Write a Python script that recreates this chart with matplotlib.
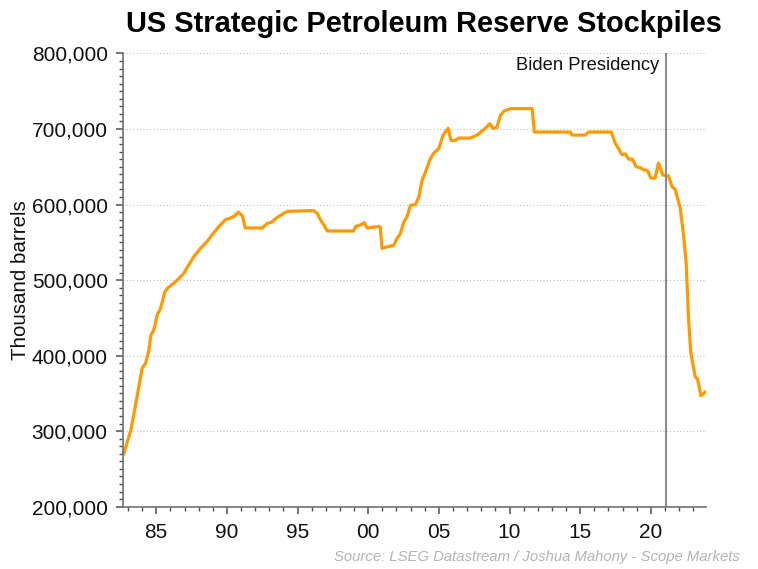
import matplotlib as mpl
mpl.use("Agg")
import matplotlib.pyplot as plt
from matplotlib.ticker import FuncFormatter, MultipleLocator


# monthly-ish readings of the SPR stock, thousand barrels
years = [
    1982.7, 1983.2, 1983.45, 1983.77, 1984.0, 1984.25, 1984.48, 1984.62,
    1984.83, 1985.07, 1985.3, 1985.6, 1985.78, 1986.25, 1986.6, 1986.95,
    1987.3, 1987.66, 1988.13, 1988.6, 1988.96, 1989.43, 1989.9, 1990.25,
    1990.55, 1990.8, 1991.1, 1991.3, 1992.5, 1992.85, 1993.2, 1993.56,
    1993.9, 1994.27, 1996.15, 1996.4, 1996.62, 1996.86, 1997.1, 1998.97,
    1999.1, 1999.45, 1999.73, 1999.92, 2000.75, 2000.85, 2000.98, 2001.33,
    2001.8, 2002.04, 2002.28, 2002.52, 2002.75, 2002.99, 2003.34, 2003.58,
    2003.81, 2004.05, 2004.35, 2004.63, 2004.99, 2005.3, 2005.65, 2005.86,
    2006.17, 2006.4, 2007.23, 2007.7, 2008.17, 2008.6, 2008.83, 2009.1,
    2009.35, 2009.63, 2010.06, 2011.6, 2011.75, 2014.3, 2014.42, 2015.36,
    2015.6, 2017.2, 2017.48, 2017.72, 2017.95, 2018.2, 2018.43, 2018.7,
    2018.96, 2019.25, 2019.48, 2019.75, 2020.0, 2020.3, 2020.54, 2020.85,
    2021.25, 2021.49, 2021.72, 2022.08, 2022.31, 2022.5, 2022.67, 2022.83,
    2023.14, 2023.3, 2023.54, 2023.7, 2023.84,
]
stock = [
    270, 301, 326, 359, 383, 390, 407, 427,
    434, 454, 462, 484, 489, 496, 502, 509,
    520, 531, 542, 551, 560, 571, 580, 582,
    585, 590, 585, 569, 569, 575, 577, 583,
    587, 591, 592, 588, 580, 573, 565, 565,
    571, 573, 576, 569, 571, 570, 542, 544,
    546, 555, 562, 577, 584, 599, 600, 610,
    632, 643, 659, 668, 674, 692, 701, 685,
    685, 688, 688, 692, 699, 707, 701, 702,
    718, 724, 727, 727, 696, 696, 692, 692,
    696, 696, 681, 674, 666, 667, 660, 660,
    650, 649, 646, 645, 635, 635, 655, 639,
    638, 624, 620, 595, 560, 522, 447, 403,
    372, 369, 347, 349, 352,
]
stock = [v * 1000 for v in stock]

BIDEN_START = 2021.05

plt.rcParams["font.family"] = ["Liberation Sans", "DejaVu Sans"]

fig = plt.figure(figsize=(7.58, 5.69), dpi=100)
ax = fig.add_axes([0.1623, 0.1095, 0.7691, 0.7965])

ax.plot(years, stock, color="#ff9900", lw=2.3, solid_joinstyle="round")
ax.axvline(BIDEN_START, color="#8c8c8c", lw=1.5)
ax.text(2020.6, 784000, "Biden Presidency", ha="right", va="center",
        fontsize=13.2, color="#111111")

ax.set_xlim(1982.65, 2023.9)
ax.set_ylim(200000, 800000)

ax.xaxis.set_major_locator(MultipleLocator(5))
ax.xaxis.set_minor_locator(MultipleLocator(1))
ax.yaxis.set_major_locator(MultipleLocator(100000))
ax.yaxis.set_minor_locator(MultipleLocator(10000))
ax.xaxis.set_major_formatter(FuncFormatter(lambda v, p: f"{int(round(v)) % 100:02d}"))
ax.yaxis.set_major_formatter(FuncFormatter(lambda v, p: f"{v:,.0f}"))

ax.grid(axis="y", which="major", linestyle=(0, (1, 2)), color="#c4c4c4", lw=0.8)
ax.set_axisbelow(True)

for s in ("top", "right"):
    ax.spines[s].set_visible(False)
for s in ("left", "bottom"):
    ax.spines[s].set_color("#707070")
    ax.spines[s].set_linewidth(1.2)

ax.tick_params(which="major", direction="out", length=5, width=1.1,
               color="#505050", labelsize=15, labelcolor="#111111")
ax.tick_params(which="minor", direction="out", length=3, width=1.0,
               color="#505050")
ax.tick_params(axis="y", which="major", pad=6)
ax.tick_params(axis="x", which="major", pad=7)

ax.set_ylabel("Thousand barrels", fontsize=14.8, color="#111111", labelpad=1)

fig.text(0.559, 0.958, "US Strategic Petroleum Reserve Stockpiles",
         ha="center", va="center", fontsize=20.9, fontweight="bold")
fig.text(0.976, 0.021, "Source: LSEG Datastream / Joshua Mahony - Scope Markets",
         ha="right", va="center", fontsize=10.75, style="italic", color="#b4b4b4")

plt.savefig("out.png", dpi=100)
